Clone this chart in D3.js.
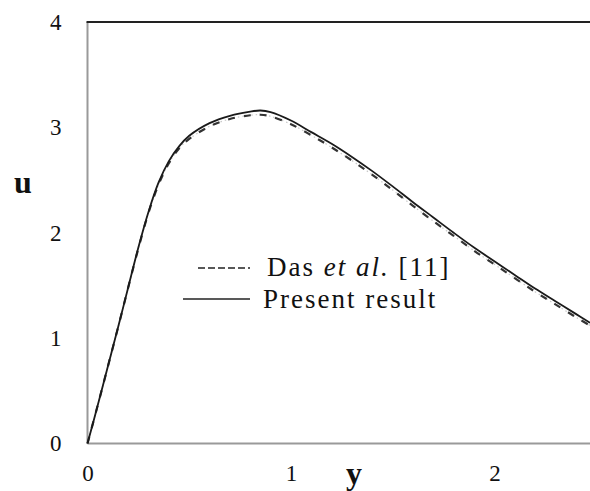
<!DOCTYPE html>
<html>
<head>
<meta charset="utf-8">
<script src="https://cdn.jsdelivr.net/npm/d3@7/dist/d3.min.js"></script>
<style>
  html, body { margin: 0; padding: 0; background: #fff; }
  svg { display: block; }
</style>
</head>
<body>
<svg id="chart" width="590" height="491"></svg>
<script>
// Distance from the plate (y) and velocity values (u)
const yValues = [0, 0.05, 0.1, 0.15, 0.2, 0.25, 0.3, 0.35, 0.4, 0.45, 0.5, 0.6, 0.7, 0.8, 0.85, 0.9,
                 1.0, 1.1, 1.2, 1.3, 1.4, 1.5, 1.6, 1.7, 1.8, 1.9, 2.0, 2.1, 2.2, 2.3, 2.4, 2.47];
const presentResult = [0, 0.36, 0.73, 1.10, 1.48, 1.86, 2.20, 2.48, 2.68, 2.82, 2.92, 3.04, 3.11, 3.15, 3.16, 3.145,
                       3.065, 2.955, 2.845, 2.72, 2.585, 2.44, 2.29, 2.145, 2.00, 1.86, 1.73, 1.60, 1.47, 1.35, 1.23, 1.145];
const dasEtAl = [0, 0.36, 0.73, 1.10, 1.48, 1.85, 2.19, 2.46, 2.66, 2.80, 2.89, 3.01, 3.08, 3.115, 3.12, 3.105,
                 3.03, 2.925, 2.81, 2.685, 2.55, 2.405, 2.255, 2.11, 1.97, 1.83, 1.70, 1.57, 1.44, 1.32, 1.20, 1.12];
const xTicks = [0, 1, 2];
const uTicks = [0, 1, 2, 3, 4];
const legendLabels = ["Das ", "et al.", " [11]", "Present result"];

const serif = "'Liberation Serif', 'Times New Roman', Times, serif";
const svg = d3.select("#chart");
const plotLeft = 87.5, plotTop = 22, plotBottom = 443.5, plotRight = 590;

const x = d3.scaleLinear().domain([0, 2.47]).range([plotLeft, plotRight]);
const u = d3.scaleLinear().domain([0, 4]).range([plotBottom, plotTop]);

// Axes: labels only, no tick marks
const yAxis = svg.append("g")
  .attr("transform", `translate(${plotLeft},0)`)
  .call(d3.axisLeft(u).tickValues(uTicks).tickSize(0).tickPadding(26).tickFormat(d3.format("d")));
yAxis.select(".domain").remove();
yAxis.selectAll("text").style("font-family", serif).style("font-size", "23px").attr("fill", "#111");

const xAxis = svg.append("g")
  .attr("transform", `translate(0,${plotBottom})`)
  .call(d3.axisBottom(x).tickValues(xTicks).tickSize(0).tickPadding(21).tickFormat(d3.format("d")));
xAxis.select(".domain").remove();
xAxis.selectAll("text").style("font-family", serif).style("font-size", "23px").attr("fill", "#111");

// Frame: grey left and bottom axes, dark top edge
svg.append("line").attr("x1", plotLeft).attr("x2", plotLeft).attr("y1", plotTop).attr("y2", plotBottom)
  .attr("stroke", "#9a9a9a").attr("stroke-width", 2);
svg.append("line").attr("x1", plotLeft).attr("x2", plotRight).attr("y1", plotBottom).attr("y2", plotBottom)
  .attr("stroke", "#9a9a9a").attr("stroke-width", 2);
svg.append("line").attr("x1", plotLeft - 1).attr("x2", plotRight).attr("y1", plotTop).attr("y2", plotTop)
  .attr("stroke", "#222").attr("stroke-width", 2);

// Axis titles
svg.append("text").attr("x", 23).attr("y", 193).attr("text-anchor", "middle")
  .style("font-family", serif).style("font-size", "32px").style("font-weight", "bold").attr("fill", "#111").text("u");
svg.append("text").attr("x", 354).attr("y", 484).attr("text-anchor", "middle")
  .style("font-family", serif).style("font-size", "32px").style("font-weight", "bold").attr("fill", "#111").text("y");

const line = d3.line().curve(d3.curveCatmullRom.alpha(0.5));

const dasPts = yValues.map((v, i) => [x(v), u(dasEtAl[i])]);
const presPts = yValues.map((v, i) => [x(v), u(presentResult[i])]);

// Das et al. curve: faint grey trace with dark dashes
svg.append("path").attr("d", line(dasPts)).attr("fill", "none")
  .attr("stroke", "#c8c8c8").attr("stroke-width", 1.2).attr("stroke-dasharray", "1.5,3");
svg.append("path").attr("d", line(dasPts)).attr("fill", "none")
  .attr("stroke", "#333").attr("stroke-width", 2.2).attr("stroke-dasharray", "7,9");

// Present result curve
svg.append("path").attr("d", line(presPts)).attr("fill", "none")
  .attr("stroke", "#1a1a1a").attr("stroke-width", 1.8);

// Legend
const lg = svg.append("g").style("font-family", serif).style("font-size", "27px").attr("fill", "#111");
lg.append("line").attr("x1", 198).attr("x2", 250).attr("y1", 268).attr("y2", 268)
  .attr("stroke", "#222").attr("stroke-width", 1.5).attr("stroke-dasharray", "7,3");
const t1 = lg.append("text").attr("x", 267).attr("y", 276).attr("letter-spacing", 2);
t1.append("tspan").text(legendLabels[0]);
t1.append("tspan").style("font-style", "italic").text(legendLabels[1]);
t1.append("tspan").text(legendLabels[2]);
lg.append("line").attr("x1", 183).attr("x2", 250).attr("y1", 299).attr("y2", 299)
  .attr("stroke", "#222").attr("stroke-width", 1.5);
lg.append("text").attr("x", 263).attr("y", 308).attr("letter-spacing", 2).text(legendLabels[3]);
</script>
</body>
</html>
